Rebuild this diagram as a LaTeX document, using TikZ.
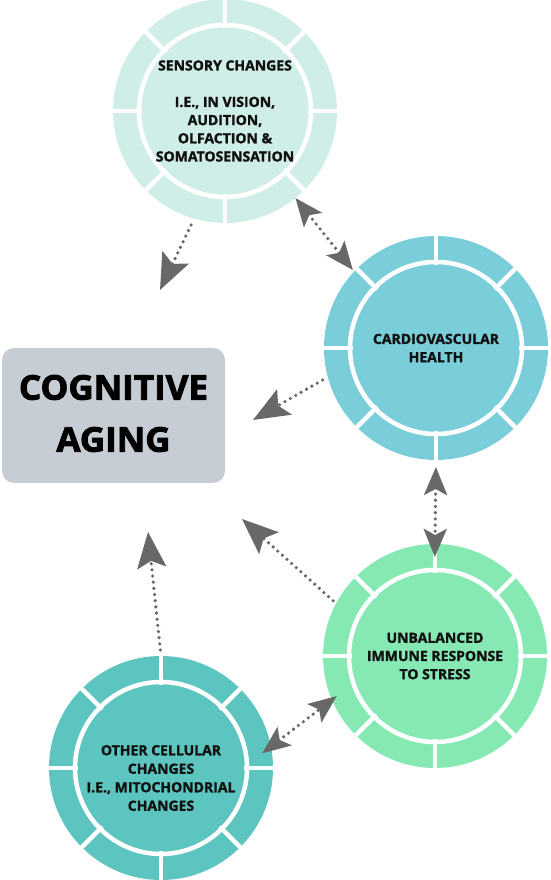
\documentclass[tikz,border=0pt]{standalone}
\usepackage{fontspec}
\newfontfamily\osans{Open Sans}[BoldFeatures={FakeBold=1.5}]
\newfontfamily\osbig{Open Sans}[BoldFeatures={FakeBold=2.5,FakeStretch=1.03}]
\usetikzlibrary{arrows.meta}
\definecolor{senscol}{HTML}{CFEEE8}
\definecolor{cardcol}{HTML}{79CEDA}
\definecolor{immcol}{HTML}{86E9B4}
\definecolor{othcol}{HTML}{5CC5C0}
\definecolor{boxcol}{HTML}{C6CDD4}
\definecolor{arrgray}{HTML}{686868}
\definecolor{txt}{HTML}{111111}
\begin{document}
\begin{tikzpicture}[x=1pt,y=1pt,
  disc/.style={circle, minimum size=224pt, inner sep=0pt, outer sep=0pt, fill=#1,
    text=txt, align=center, font=\osans\bfseries\fontsize{14}{18.2}\selectfont},
  ringed/.style={path picture={
    \draw[white, line width=4.5pt] (path picture bounding box.center) circle (86pt);
    \foreach \a in {0,45,...,315}
      \draw[white, line width=4.5pt] (path picture bounding box.center) ++(\a:83pt) -- ++(\a:32pt);}},
  lbl/.style={text=txt, align=center, inner sep=0pt, font=\osans\bfseries\fontsize{14}{18.5}\selectfont},
  dotline/.style={draw=arrgray, line width=3.6pt, line cap=round, dash pattern=on 0pt off 6.2pt},
  bighead/.tip={Stealth[length=36pt,width=29pt,inset=7pt,color=arrgray]},
  smallhead/.tip={Stealth[length=28pt,width=23pt,inset=6pt,color=arrgray]},
  onetip/.style={-bighead},
  twotip/.style={smallhead-smallhead},
]
\useasboundingbox (0,0) rectangle (551,880);
\fill[white] (0,0) rectangle (551,880);

% nodes
\node[disc=senscol, ringed] (sens) at (225,769)
  {SENSORY CHANGES\\[18.2pt]I.E., IN VISION,\\AUDITION,\\OLFACTION \&\\SOMATOSENSATION};
\node[disc=cardcol, ringed] (card) at (436,532) {CARDIOVASCULAR\\HEALTH};
\node[disc=immcol, ringed] (imm) at (435,224) {UNBALANCED\\IMMUNE RESPONSE\\TO STRESS};
\node[disc=othcol, ringed] (oth) at (161,112) {};
\node[lbl] (othtext) at ([yshift=-10pt]oth.center)
  {OTHER CELLULAR\\CHANGES\\I.E., MITOCHONDRIAL\\CHANGES};
\node[rounded corners=12pt, fill=boxcol, minimum width=223pt, minimum height=135pt,
  inner sep=0pt, outer sep=0pt] (cog) at (113.5,464.5) {};
\node[text=black, align=center, inner sep=0pt,
  font=\osbig\bfseries\fontsize{34}{52}\selectfont] (cogtext) at ([yshift=2pt]cog.center)
  {COGNITIVE\\AGING};

% free arrow ends near the central box
\coordinate (t1) at (160,590);
\coordinate (t3) at (253,460);
\coordinate (t5) at (242,361);
\coordinate (t6) at (148,348);

% connectors
\draw[dotline, onetip, shorten <=7pt] (sens.254) -- (t1);
\draw[dotline, twotip, shorten >=2pt] (sens.-51) -- (card.137);
\draw[dotline, onetip, shorten <=6pt] (card.195) -- (t3);
\draw[dotline, twotip, shorten <=7pt, shorten >=-13pt] (card.270) -- (imm.90);
\draw[dotline, onetip, shorten <=4pt] (imm.152) -- (t5);
\draw[dotline, onetip, shorten <=6pt] (oth.90) -- (t6);
\draw[dotline, twotip, shorten <=-11pt, shorten >=-6pt] (oth.11) -- (imm.203);
\end{tikzpicture}
\end{document}
